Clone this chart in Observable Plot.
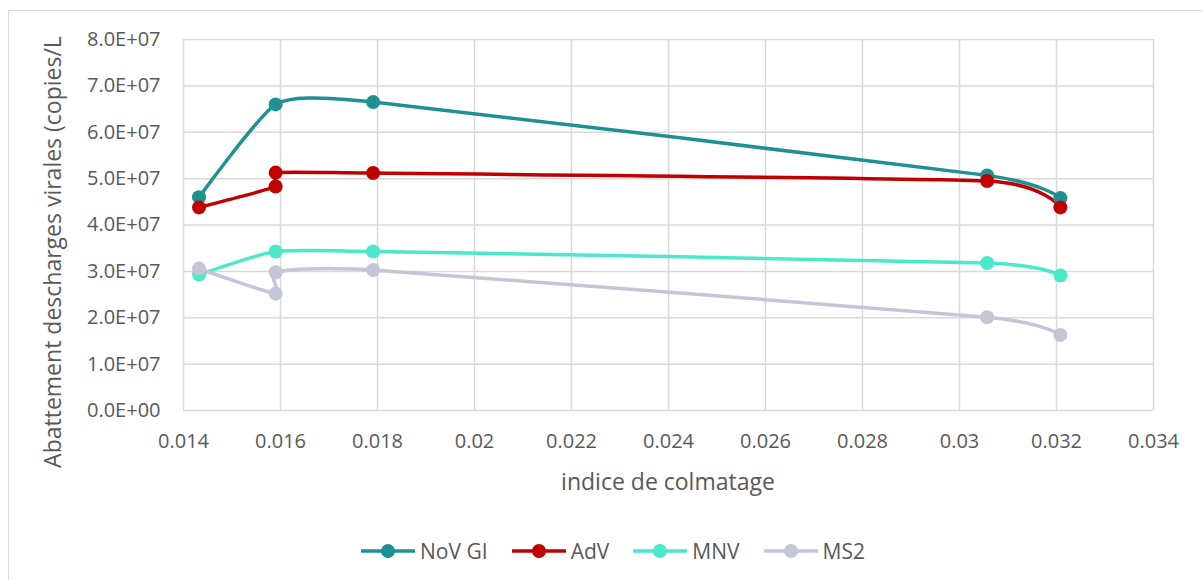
<!DOCTYPE html>
<html>
<head>
<meta charset="utf-8">
<script src="https://cdn.jsdelivr.net/npm/d3@7"></script>
<script src="https://cdn.jsdelivr.net/npm/@observablehq/plot@0.6"></script>
<style>
  html, body { margin: 0; padding: 0; background: #fff; }
  #wrap { position: relative; width: 1202px; height: 580px; overflow: hidden; font-family: "Open Sans", sans-serif; color: #595959; }
  #frame { position: absolute; left: 8px; top: 10px; width: 1200px; height: 575px; border: 1px solid #d9d9d9; box-sizing: border-box; }
  #chart { position: absolute; left: 0; top: 0; }
  #ytitle { position: absolute; left: 52px; top: 252px; transform: translate(-50%, -50%) rotate(-90deg); white-space: nowrap; font-size: 23px; }
  #xtitle { position: absolute; left: 668px; top: 481px; transform: translate(-50%, -50%); white-space: nowrap; font-size: 23px; }
  #legend { position: absolute; left: 0; width: 1226px; top: 551px; transform: translateY(-50%); display: flex; justify-content: center; gap: 24px; font-size: 21px; }
  .item { display: flex; align-items: center; gap: 5px; }
</style>
</head>
<body>
<div id="wrap">
  <div id="frame"></div>
  <div id="chart"></div>
  <div id="ytitle"></div>
  <div id="xtitle"></div>
  <div id="legend"></div>
</div>
<script>
// ---- data ----
const indice = [0.01432, 0.0159, 0.0159, 0.01791, 0.03057, 0.03208];
const novGI  = [4.60e7, 6.60e7, null,   6.65e7, 5.07e7, 4.58e7];
const adv    = [4.38e7, 4.83e7, 5.13e7, 5.12e7, 4.95e7, 4.38e7];
const mnv    = [2.93e7, 3.43e7, null,   3.43e7, 3.18e7, 2.91e7];
const ms2    = [3.06e7, 2.52e7, 2.98e7, 3.03e7, 2.01e7, 1.63e7];

const seriesNames = ["NoV GI", "AdV", "MNV", "MS2"];
const seriesValues = [novGI, adv, mnv, ms2];
const seriesColors = ["#1e9190", "#c00000", "#4be8c9", "#c2c6d6"];

const xTicks = [0.014, 0.016, 0.018, 0.02, 0.022, 0.024, 0.026, 0.028, 0.03, 0.032, 0.034];
const yTicks = [0, 1e7, 2e7, 3e7, 4e7, 5e7, 6e7, 7e7, 8e7];

const xTitle = "indice de colmatage";
const yTitle = "Abattement descharges virales (copies/L";

// ---- build table ----
const rows = [];
seriesNames.forEach((name, s) => {
  seriesValues[s].forEach((v, i) => {
    if (v != null) rows.push({series: name, x: indice[i], y: v});
  });
});

const fmtY = v => {
  if (v === 0) return "0.0E+00";
  const e = Math.floor(Math.log10(v));
  const m = v / Math.pow(10, e);
  return m.toFixed(1) + "E+" + String(e).padStart(2, "0");
};

const chart = Plot.plot({
  width: 1202,
  height: 500,
  marginLeft: 183,
  marginRight: 49,
  marginTop: 39,
  marginBottom: 90,
  style: { fontFamily: "'Open Sans', sans-serif", fontSize: "20px", color: "#595959", background: "transparent" },
  x: { domain: [0.014, 0.034] },
  y: { domain: [0, 8e7] },
  color: { domain: seriesNames, range: seriesColors },
  marks: [
    Plot.gridX(xTicks, { stroke: "#d9d9d9", strokeOpacity: 1, strokeWidth: 1.5 }),
    Plot.gridY(yTicks, { stroke: "#d9d9d9", strokeOpacity: 1, strokeWidth: 1.5 }),
    Plot.axisX({ ticks: xTicks, tickSize: 0, tickPadding: 23, tickFormat: d => String(+d.toFixed(3)), label: null, fill: "#595959" }),
    Plot.axisY({ ticks: yTicks, tickSize: 0, tickPadding: 23, tickFormat: fmtY, label: null, fill: "#595959" }),
    Plot.line(rows, { x: "x", y: "y", z: "series", stroke: "series", strokeWidth: 3.5, curve: "cardinal", tension: 0.5 }),
    Plot.dot(rows, { x: "x", y: "y", fill: "series", r: 7 })
  ]
});
document.getElementById("chart").appendChild(chart);

document.getElementById("xtitle").textContent = xTitle;
document.getElementById("ytitle").textContent = yTitle;

const legend = document.getElementById("legend");
seriesNames.forEach((name, i) => {
  const item = document.createElement("div");
  item.className = "item";
  item.innerHTML = `<svg width="54" height="16"><line x1="1" y1="8" x2="53" y2="8" stroke="${seriesColors[i]}" stroke-width="3.5" stroke-linecap="round"/><circle cx="27" cy="8" r="7" fill="${seriesColors[i]}"/></svg><span>${name}</span>`;
  legend.appendChild(item);
});
</script>
</body>
</html>
